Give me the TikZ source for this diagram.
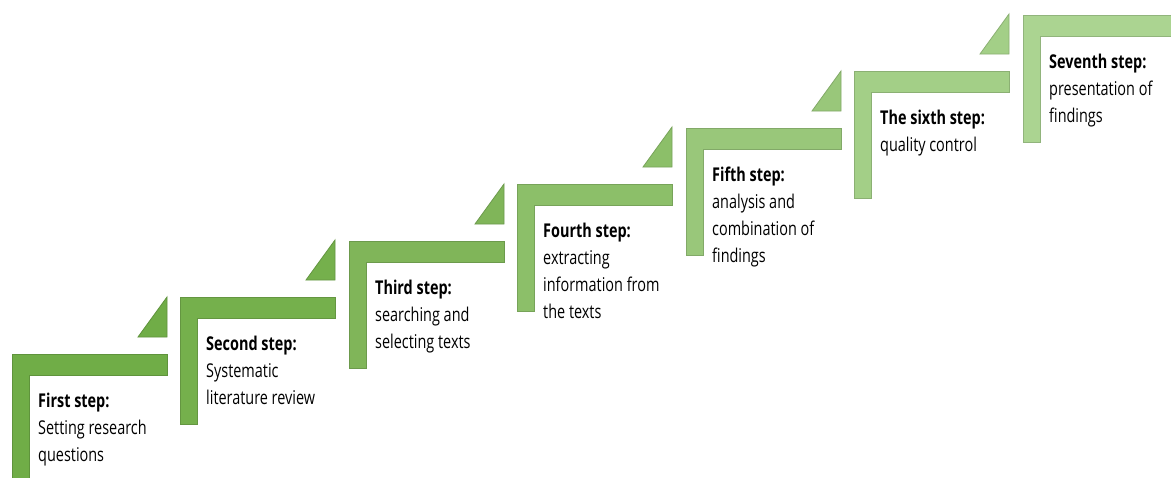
\documentclass[tikz,border=0pt]{standalone}
\usepackage{fontspec}
\setmainfont[FakeStretch=0.76]{Open Sans}
\newlength{\du}
\setlength{\du}{1pt}
\tikzset{
  stepbar/.style={fill=stepcolor, draw=stepcolor!85!black, line width=0.8\du},
  steptext/.style={anchor=north west, inner sep=0pt, align=left,
    font=\fontsize{19}{27}\selectfont, text=black},
}

\begin{document}
\begin{tikzpicture}
\pgftransformxscale{1.000000}
\pgftransformyscale{-1.000000}
\fill[white] (0\du,0\du) rectangle (1171\du,477\du);
\useasboundingbox (0\du,0\du) rectangle (1171\du,477\du);
% first step
\definecolor{stepcolor}{rgb}{0.439, 0.678, 0.278}
\draw[stepbar] (12\du,354\du)--(167\du,354\du)--(167\du,375\du)--(29\du,375\du)--(29\du,481\du)--(12\du,481\du)--cycle;
\draw[stepbar] (138\du,337\du)--(167\du,337\du)--(167\du,297\du)--cycle;
\node[steptext] (stepone) at (38\du,393\du){\textbf{First step:}\\Setting research\\questions};
% second step
\definecolor{stepcolor}{rgb}{0.460, 0.690, 0.300}
\draw[stepbar] (180\du,297\du)--(335\du,297\du)--(335\du,318\du)--(197\du,318\du)--(197\du,424\du)--(180\du,424\du)--cycle;
\draw[stepbar] (306\du,280\du)--(335\du,280\du)--(335\du,240\du)--cycle;
\node[steptext] (steptwo) at (206\du,336\du){\textbf{Second step:}\\Systematic\\literature review};
% third step
\definecolor{stepcolor}{rgb}{0.500, 0.710, 0.350}
\draw[stepbar] (349\du,241\du)--(504\du,241\du)--(504\du,262\du)--(366\du,262\du)--(366\du,368\du)--(349\du,368\du)--cycle;
\draw[stepbar] (475\du,224\du)--(504\du,224\du)--(504\du,184\du)--cycle;
\node[steptext] (stepthree) at (375\du,280\du){\textbf{Third step:}\\searching and\\selecting texts};
% fourth step
\definecolor{stepcolor}{rgb}{0.550, 0.750, 0.410}
\draw[stepbar] (517\du,184\du)--(672\du,184\du)--(672\du,205\du)--(534\du,205\du)--(534\du,311\du)--(517\du,311\du)--cycle;
\draw[stepbar] (643\du,167\du)--(672\du,167\du)--(672\du,127\du)--cycle;
\node[steptext] (stepfour) at (543\du,223\du){\textbf{Fourth step:}\\extracting\\information from\\the texts};
% fifth step
\definecolor{stepcolor}{rgb}{0.600, 0.780, 0.480}
\draw[stepbar] (686\du,128\du)--(841\du,128\du)--(841\du,149\du)--(703\du,149\du)--(703\du,255\du)--(686\du,255\du)--cycle;
\draw[stepbar] (812\du,111\du)--(841\du,111\du)--(841\du,71\du)--cycle;
\node[steptext] (stepfive) at (712\du,167\du){\textbf{Fifth step:}\\analysis and\\combination of\\findings};
% sixth step
\definecolor{stepcolor}{rgb}{0.640, 0.810, 0.530}
\draw[stepbar] (854\du,71\du)--(1009\du,71\du)--(1009\du,92\du)--(871\du,92\du)--(871\du,198\du)--(854\du,198\du)--cycle;
\draw[stepbar] (980\du,54\du)--(1009\du,54\du)--(1009\du,14\du)--cycle;
\node[steptext] (stepsix) at (880\du,110\du){\textbf{The sixth step:}\\quality control};
% seventh step
\definecolor{stepcolor}{rgb}{0.670, 0.830, 0.570}
\draw[stepbar] (1023\du,15\du)--(1178\du,15\du)--(1178\du,36\du)--(1040\du,36\du)--(1040\du,142\du)--(1023\du,142\du)--cycle;
\node[steptext] (stepseven) at (1049\du,54\du){\textbf{Seventh step:}\\presentation of\\findings};
\end{tikzpicture}
\end{document}
